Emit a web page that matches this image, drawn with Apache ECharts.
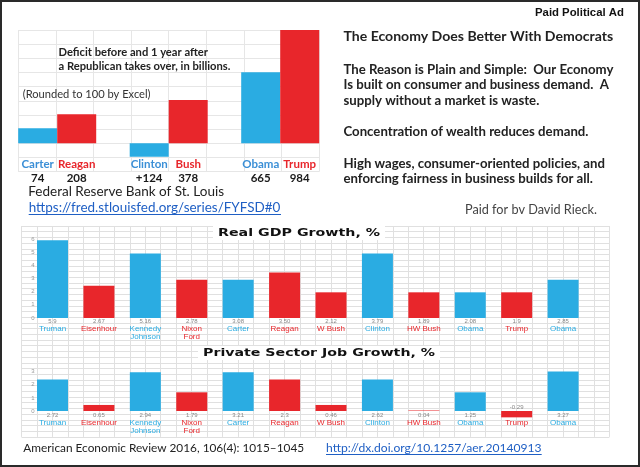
<!DOCTYPE html>
<html><head><meta charset="utf-8">
<script src="https://cdn.jsdelivr.net/npm/echarts@6/dist/echarts.min.js"></script>
<style>html,body{margin:0;padding:0;background:#fff}#c{width:640px;height:467px}</style>
</head><body><div id="c"></div>
<script>
// ---------------- data ----------------
const deficitDemNames = ['Carter', 'Clinton', 'Obama'];
const deficitRepNames = ['Reagan', 'Bush', 'Trump'];
const deficitDemLabels = ['74', '+124', '665'];
const deficitRepLabels = ['208', '378', '984'];
const deficitDemBars = [130, -116, 617];
const deficitRepBars = [252, 376, 984];

const presidents = ['Truman', 'Eisenhour', 'Kennedy\nJohnson', 'Nixon\nFord', 'Carter', 'Reagan', 'W Bush', 'Clinton', 'HW Bush', 'Obama', 'Trump', 'Obama'];
const parties = ['D', 'R', 'D', 'R', 'D', 'R', 'R', 'D', 'R', 'D', 'R', 'D'];
const gdpLabels = ['5.9', '2.67', '5.16', '2.78', '3.08', '3.50', '2.12', '3.79', '1.89', '2.08', '1.9', '2.85'];
const gdpBars = [5.9, 2.45, 4.9, 2.9, 2.9, 3.45, 1.95, 4.9, 1.95, 1.95, 1.95, 2.9];
const jobLabels = ['2.72', '0.65', '2.94', '1.79', '3.21', '2.3', '0.46', '2.62', '0.04', '1.25', '-0.29', '3.27'];
const jobBars = [2.4, 0.46, 2.94, 1.42, 2.94, 2.4, 0.46, 2.4, 0.04, 1.42, -0.48, 3.42];

const adLines = ['The Reason is Plain and Simple:  Our Economy', 'Is built on consumer and business demand.  A', 'supply without a market is waste.', '', 'Concentration of wealth reduces demand.', '', 'High wages, consumer-oriented policies, and', 'enforcing fairness in business builds for all.'];

// ---------------- helpers ----------------
const BLUE = '#2AACE2', RED = '#E8262B', TBLUE = '#3B8FD6';
const mctx = document.createElement('canvas').getContext('2d');
function measure(text, font) { mctx.font = font; return mctx.measureText(text).width; }
function fit(text, weight, family, target) { return 100 * target / measure(text, weight + ' 100px ' + family); }
const LATO = "Lato, 'Open Sans', sans-serif";
const ARIAL = "'Liberation Sans', Arial, sans-serif";
const DJV = "'DejaVu Sans', sans-serif";
function txt(text, x, y, size, weight, family, color, align, extra) {
  return Object.assign({ type: 'text', x: x, y: y, z: 10,
    style: { text: text, font: weight + ' ' + size + 'px ' + family, fill: color, textAlign: align || 'left', textVerticalAlign: 'middle' } }, extra || {});
}
const graphics = [];
// frame
graphics.push({ type: 'rect', shape: { x: 1, y: 1, width: 638, height: 465 }, style: { fill: null, stroke: '#2a2a2a', lineWidth: 2 }, z: 20 });
// right block
graphics.push(txt('Paid Political Ad', 535, 13, fit('Paid Political Ad', 'bold', ARIAL, 89), 'bold', ARIAL, '#111'));
graphics.push(txt('The Economy Does Better With Democrats', 343.5, 36, fit('The Economy Does Better With Democrats', 'bold', LATO, 270), 'bold', LATO, '#222'));
const pSize = fit(adLines[0], 'bold', LATO, 270);
adLines.forEach((l, i) => { if (l) graphics.push(txt(l, 343.5, 69.5 + i * 15.65, pSize, 'bold', LATO, '#222')); });
graphics.push(txt('Paid for bv David Rieck.', 465, 209.5, fit('Paid for bv David Rieck.', 'normal', LATO, 132), 'normal', LATO, '#444'));
// deficit chart annotations
const dSize = fit('a Republican takes over, in billions.', 'bold', LATO, 172);
graphics.push(txt('Deficit before and 1 year after', 58.5, 52.3, dSize, 'bold', LATO, '#222'));
graphics.push(txt('a Republican takes over, in billions.', 58.5, 66, dSize, 'bold', LATO, '#222'));
graphics.push(txt('(Rounded to 100 by Excel)', 22.7, 94.3, fit('(Rounded to 100 by Excel)', 'normal', LATO, 128), 'normal', LATO, '#333'));
// sources
const fedSize = fit('Federal Reserve Bank of St. Louis', 'normal', LATO, 196);
graphics.push(txt('Federal Reserve Bank of St. Louis', 28.3, 191.7, fedSize, 'normal', LATO, '#222'));
const fredUrl = 'https://fred.stlouisfed.org/series/FYFSD#0';
graphics.push(txt(fredUrl, 28.7, 207.5, fit(fredUrl, 'normal', LATO, 252), 'normal', LATO, '#1F5FC4'));
graphics.push({ type: 'line', shape: { x1: 28.7, y1: 214.5, x2: 281, y2: 214.5 }, style: { stroke: '#1F5FC4', lineWidth: 1 }, z: 10 });
const aer = 'American Economic Review 2016, 106(4): 1015\u20131045';
graphics.push(txt(aer, 23.3, 447.7, fit(aer, 'normal', LATO, 281), 'normal', LATO, '#222'));
const doi = 'http://dx.doi.org/10.1257/aer.20140913';
graphics.push(txt(doi, 326, 447.7, fit(doi, 'normal', LATO, 215.7), 'normal', LATO, '#1F5FC4'));
graphics.push({ type: 'line', shape: { x1: 326, y1: 454.5, x2: 541.7, y2: 454.5 }, style: { stroke: '#1F5FC4', lineWidth: 1 }, z: 10 });
// stretched chart titles on white boxes
function title(text, cx, cy, target) {
  const size = 10.5, w = measure(text, 'bold ' + size + 'px ' + DJV), s = target / w;
  graphics.push({ type: 'rect', shape: { x: cx - target / 2 - 5, y: cy - 7, width: target + 10, height: 14 }, style: { fill: '#fff' }, z: 9 });
  graphics.push(txt(text, cx, cy, size, 'bold', DJV, '#111', 'center', { scaleX: s }));
}
title('Real GDP Growth, %', 299, 233, 162);
title('Private Sector Job Growth, %', 319, 353, 232);

// ---------------- chart ----------------
const grid = (o) => Object.assign({ containLabel: false, outerBoundsMode: 'none' }, o);
const hid = { axisLabel: { show: false }, axisLine: { show: false }, axisTick: { show: false } };
const gl = (c) => ({ show: true, lineStyle: { color: c, width: 1 } });
const idx = presidents.map((p, i) => String(i));
const nameLabel = {
  interval: 0, fontSize: 8, lineHeight: 8, fontFamily: ARIAL,
  formatter: (v) => presidents[+v],
  color: (v) => parties[+v] === 'D' ? BLUE : RED
};
const tickLabel = { inside: true, margin: 2, fontSize: 6, color: '#999', fontFamily: ARIAL, formatter: (v) => v < 0 ? '' : String(v) };
const valueLabel = (arr) => ({ show: true, position: 'bottom', distance: 0, fontSize: 6, color: '#888', fontFamily: ARIAL, formatter: (p) => arr[p.dataIndex] });
const colorByParty = (p) => parties[p.dataIndex] === 'D' ? BLUE : RED;

const option = {
  animation: false,
  backgroundColor: '#fff',
  grid: [
    grid({ left: 18.2, top: 30, width: 301, height: 141.6 }),
    grid({ left: 1.45, top: 30, width: 334.5, height: 141.6 }),
    grid({ left: 21.5, top: 226, width: 587.9, height: 210.9 }),
    grid({ left: 29.3, top: 239, width: 557, height: 79 }),
    grid({ left: 29.3, top: 371.5, width: 557, height: 52.7 })
  ],
  xAxis: [
    Object.assign({ gridIndex: 0, type: 'value', min: 0, max: 8, interval: 1, splitLine: gl('#e6e6e6') }, hid),
    { gridIndex: 1, type: 'category', data: deficitDemNames.map((n, i) => String(i)), offset: -28.3,
      axisLine: { show: false, onZero: false }, axisTick: { show: false }, splitLine: { show: false },
      axisLabel: { interval: 0, margin: 14.4,
        formatter: (v) => '{d|' + deficitDemNames[+v] + '}{r|' + deficitRepNames[+v] + '}\n{v|' + deficitDemLabels[+v] + '}{v|' + deficitRepLabels[+v] + '}',
        rich: {
          d: { color: TBLUE, fontWeight: 'bold', fontSize: 11.5, fontFamily: LATO, width: 39, align: 'center', lineHeight: 14 },
          r: { color: RED, fontWeight: 'bold', fontSize: 11.5, fontFamily: LATO, width: 39, align: 'center', lineHeight: 14 },
          v: { color: '#1a1a1a', fontWeight: 'bold', fontSize: 11.5, fontFamily: LATO, width: 39, align: 'center', lineHeight: 14 }
        } } },
    Object.assign({ gridIndex: 2, type: 'value', min: 0, max: 38, interval: 1, splitLine: gl('#e0e0e0') }, hid),
    { gridIndex: 3, type: 'category', data: idx, axisLine: { show: false, onZero: false }, axisTick: { show: false }, axisLabel: Object.assign({ margin: 7 }, nameLabel) },
    { gridIndex: 4, type: 'category', data: idx, offset: -13.2, axisLine: { show: false, onZero: false }, axisTick: { show: false }, axisLabel: Object.assign({ margin: 7.5 }, nameLabel) }
  ],
  yAxis: [
    Object.assign({ gridIndex: 0, type: 'value', min: 0, max: 10, interval: 1, splitLine: gl('#e6e6e6') }, hid),
    { gridIndex: 1, type: 'value', min: -246, max: 984, interval: 123, show: false },
    Object.assign({ gridIndex: 2, type: 'value', min: 0, max: 37, interval: 1, splitLine: gl('#e0e0e0') }, hid),
    { gridIndex: 3, type: 'value', min: 0, max: 6, interval: 1, axisLine: { show: false }, axisTick: { show: false }, splitLine: { show: false }, axisLabel: tickLabel },
    { gridIndex: 4, type: 'value', min: -1, max: 3, interval: 1, axisLine: { show: false }, axisTick: { show: false }, splitLine: { show: false }, axisLabel: tickLabel }
  ],
  series: [
    { type: 'bar', xAxisIndex: 1, yAxisIndex: 1, data: deficitDemBars, barWidth: 39, barGap: '0%', itemStyle: { color: BLUE } },
    { type: 'bar', xAxisIndex: 1, yAxisIndex: 1, data: deficitRepBars, barWidth: 39, barGap: '0%', itemStyle: { color: RED } },
    { type: 'bar', xAxisIndex: 3, yAxisIndex: 3, data: gdpBars, barWidth: 31, itemStyle: { color: colorByParty }, label: valueLabel(gdpLabels) },
    { type: 'bar', xAxisIndex: 4, yAxisIndex: 4, barWidth: 31, itemStyle: { color: colorByParty },
      data: jobBars.map((v) => v < 0 ? { value: v, label: { position: 'top', distance: 1 } } : v),
      label: Object.assign(valueLabel(jobLabels), { distance: 1.5 }) }
  ],
  graphic: graphics
};
const chart = echarts.init(document.getElementById('c'));
chart.setOption(option);
</script>
</body></html>
